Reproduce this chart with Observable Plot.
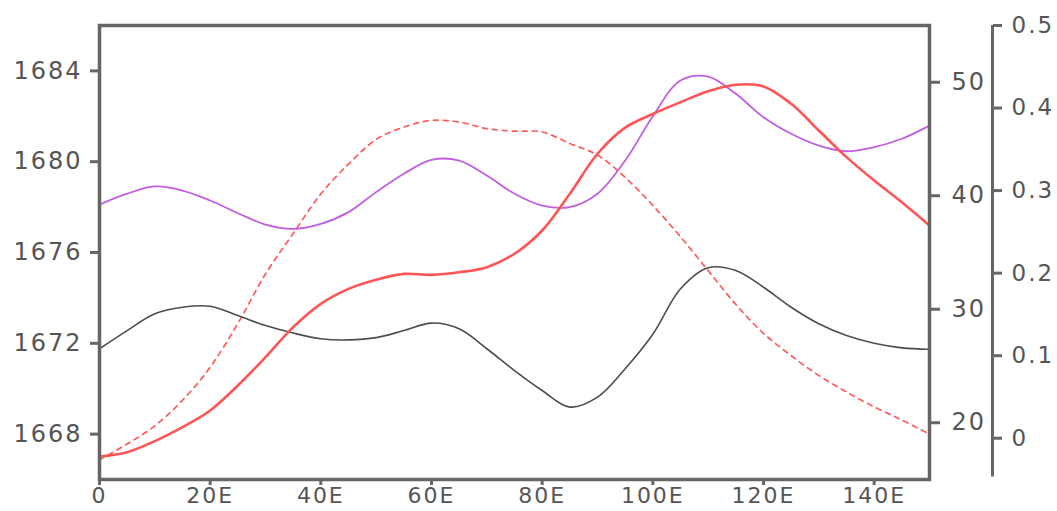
<!DOCTYPE html>
<html>
<head>
<meta charset="utf-8">
<script src="https://cdn.jsdelivr.net/npm/d3@7"></script>
<script src="https://cdn.jsdelivr.net/npm/@observablehq/plot@0.6"></script>
<style>
  html, body { margin: 0; padding: 0; background: #fff; }
</style>
</head>
<body>
<div id="chart"></div>
<script>
// Longitudes (degrees E)
const lon = [0,5,10,15,20,25,30,35,40,45,50,55,60,65,70,75,80,85,90,95,100,105,110,115,120,125,130,135,140,145,150];

// Left axis series (1666–1686)
const grayLine = [1671.76,1672.56,1673.30,1673.59,1673.63,1673.22,1672.78,1672.45,1672.20,1672.15,1672.25,1672.56,1672.89,1672.64,1671.76,1670.80,1669.92,1669.19,1669.63,1670.88,1672.40,1674.40,1675.33,1675.21,1674.47,1673.59,1672.86,1672.34,1672.00,1671.80,1671.74];
const purpleLine = [1678.11,1678.59,1678.91,1678.73,1678.29,1677.73,1677.23,1677.04,1677.26,1677.78,1678.66,1679.47,1680.08,1680.05,1679.39,1678.59,1678.07,1678.00,1678.59,1680.05,1682.00,1683.58,1683.75,1682.99,1681.96,1681.23,1680.71,1680.46,1680.64,1681.01,1681.59];

// Inner right axis series (15–55)
const redSolid = [17.03,17.41,18.38,19.61,21.08,23.28,25.78,28.42,30.48,31.8,32.6,33.12,33.03,33.26,33.71,34.89,36.94,40.17,43.7,46.0,47.2,48.24,49.21,49.78,49.63,48.1,45.75,43.4,41.34,39.43,37.38];

// Outer right axis series (-0.05–0.5)
const redDashed = [-0.026,-0.007,0.015,0.046,0.086,0.139,0.199,0.248,0.296,0.332,0.362,0.377,0.385,0.383,0.375,0.372,0.371,0.357,0.343,0.316,0.282,0.244,0.203,0.162,0.127,0.100,0.076,0.056,0.038,0.022,0.005];

// Axis tick values
const xTicks = [0,20,40,60,80,100,120,140];
const leftTicks = [1668,1672,1676,1680,1684];
const innerTicks = [20,30,40,50];
const outerTicks = [0,0.1,0.2,0.3,0.4,0.5];

// Axis domains
const leftDomain = [1666,1686];
const innerDomain = [15,55];
const outerDomain = [-0.05,0.5];

// Map secondary axes onto the left (primary) y scale
const span = leftDomain[1]-leftDomain[0];
const fInner = v => leftDomain[0] + (v-innerDomain[0])/(innerDomain[1]-innerDomain[0])*span;
const gInner = y => innerDomain[0] + (y-leftDomain[0])/span*(innerDomain[1]-innerDomain[0]);
const fOuter = v => leftDomain[0] + (v-outerDomain[0])/(outerDomain[1]-outerDomain[0])*span;
const gOuter = y => outerDomain[0] + (y-leftDomain[0])/span*(outerDomain[1]-outerDomain[0]);

const gray = lon.map((x,i)=>({x, y: grayLine[i]}));
const purple = lon.map((x,i)=>({x, y: purpleLine[i]}));
const rs = lon.map((x,i)=>({x, y: fInner(redSolid[i])}));
const rd = lon.map((x,i)=>({x, y: fOuter(redDashed[i])}));

const axisColor = "#666";
const textColor = "#555";

const chart = Plot.plot({
  width: 1057,
  height: 511,
  marginLeft: 99,
  marginRight: 128,
  marginTop: 25,
  marginBottom: 32,
  x: {domain: [0,150]},
  y: {domain: leftDomain},
  style: {fontFamily: "'DejaVu Sans', sans-serif", fontSize: "24px", color: textColor, letterSpacing: "2px", background: "#fff"},
  marks: [
    Plot.line(rd, {x:"x", y:"y", stroke:"#ff5a5a", strokeWidth:1.7, strokeDasharray:"5,5", curve:"catmull-rom"}),
    Plot.line(gray, {x:"x", y:"y", stroke:"#4d4d4d", strokeWidth:1.6, curve:"catmull-rom"}),
    Plot.line(purple, {x:"x", y:"y", stroke:"#c25ee0", strokeWidth:1.8, curve:"catmull-rom"}),
    Plot.line(rs, {x:"x", y:"y", stroke:"#ff5555", strokeWidth:2.6, curve:"catmull-rom"}),
    Plot.frame({stroke: axisColor, strokeWidth: 3.5}),
    Plot.axisX(xTicks, {anchor:"bottom", tickSize:6, tickPadding:2, fontSize:22, stroke:axisColor, strokeWidth:3, label:null,
      tickFormat: d => d === 0 ? "0" : d + "E"}),
    Plot.axisY(leftTicks, {anchor:"left", tickSize:9, tickPadding:8, stroke:axisColor, strokeWidth:3, label:null,
      tickFormat: d => String(d)}),
    Plot.axisY(innerTicks.map(fInner), {anchor:"right", tickSize:10, tickPadding:12, stroke:axisColor, strokeWidth:3, label:null,
      tickFormat: y => String(Math.round(gInner(y)))}),
    Plot.ruleX([150], {y1: fOuter(-0.047), y2: leftDomain[1], dx: 63, stroke: axisColor, strokeWidth: 3}),
    Plot.axisY(outerTicks.map(fOuter), {anchor:"right", dx: 63, tickSize:9, tickPadding:10, fontSize:23, stroke:axisColor, strokeWidth:3, label:null,
      tickFormat: y => { const v = Math.round(gOuter(y)*10)/10; return v === 0 ? "0" : String(v); }})
  ]
});
document.getElementById("chart").appendChild(chart);
</script>
</body>
</html>
